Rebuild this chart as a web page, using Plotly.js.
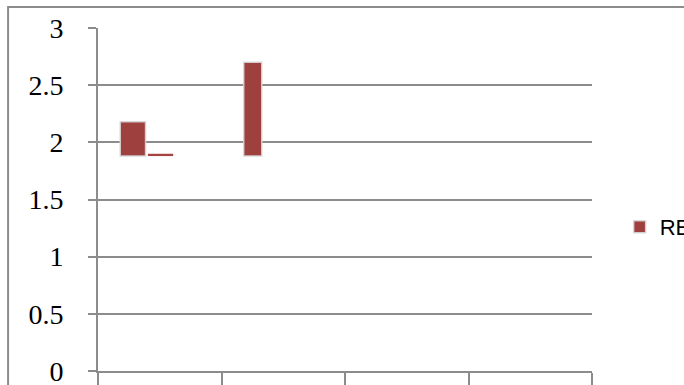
<!DOCTYPE html>
<html>
<head>
<meta charset="utf-8">
<script src="https://cdn.plot.ly/plotly-3.0.1.min.js"></script>
<style>html,body{margin:0;padding:0;background:#fff;}#chart{width:684px;height:385px;}</style>
</head>
<body>
<div id="chart"></div>
<script>
// Data
var categories = ['C1', 'C2', 'C3', 'C4'];
var baseValue = 1.88;                       // visible bottom of all bars
var seriesA = [2.18, 2.70, null, null];      // first bar in each category (legend "RE…")
var seriesB = [1.90, null, null, null];      // second bar in each category
var yTicks = [0, 0.5, 1, 1.5, 2, 2.5, 3];
var yTickLabels = ['0', '0.5', '1', '1.5', '2', '2.5', '3'];
var legendName = 'RES';

function heights(arr) { return arr.map(function (v) { return v == null ? null : v - baseValue; }); }

var barColor = '#9E403E';
var edge = {color: 'rgba(215,215,215,0.9)', width: 1.5};

var traces = [
  {type: 'bar', name: legendName, x: categories, y: heights(seriesA), base: baseValue,
   offset: -0.32, width: [0.205, 0.146, 0.205, 0.205],
   marker: {color: barColor, line: edge}, showlegend: true},
  {type: 'bar', name: 'B', x: categories, y: heights(seriesB), base: baseValue,
   offset: -0.096, width: 0.205,
   marker: {color: '#A8443F', line: {width: 0}}, showlegend: false}
];

var layout = {
  width: 684, height: 385,
  margin: {l: 98, r: 92, t: 28, b: 14, autoexpand: false},
  paper_bgcolor: '#fff', plot_bgcolor: '#fff',
  barmode: 'overlay',
  showlegend: true,
  legend: {x: 1.056, y: 0.42, xanchor: 'left', yanchor: 'middle',
           font: {family: 'Liberation Sans, Arial, sans-serif', size: 22, color: '#000'},
           itemwidth: 30, bgcolor: 'rgba(0,0,0,0)'},
  xaxis: {range: [-0.5, 3.5], tickmode: 'array', tickvals: [-0.5, 0.5, 1.5, 2.5, 3.5],
          ticktext: ['', '', '', '', ''], ticks: 'outside', ticklen: 16, tickcolor: '#8c8c8c', tickwidth: 2,
          showgrid: false, showline: true, linecolor: '#8c8c8c', linewidth: 2, zeroline: false, fixedrange: true},
  yaxis: {range: [0, 3], tickmode: 'array', tickvals: yTicks, ticktext: yTickLabels,
          ticks: 'outside', ticklen: 8, tickcolor: '#8c8c8c', tickwidth: 2,
          showgrid: true, gridcolor: '#8c8c8c', gridwidth: 2,
          showline: true, linecolor: '#8c8c8c', linewidth: 2, zeroline: false,
          ticklabelstandoff: 19, ticklabeloverflow: 'allow',
          tickfont: {family: 'Liberation Serif, Times New Roman, serif', size: 28, color: '#000'}, fixedrange: true},
  shapes: [{type: 'rect', xref: 'paper', yref: 'paper', x0: -0.182, x1: 1.4, y0: 1.061, y1: -0.3,
            line: {color: '#8c8c8c', width: 2}, fillcolor: 'rgba(0,0,0,0)'}]
};

Plotly.newPlot('chart', traces, layout, {displayModeBar: false, staticPlot: true});
</script>
</body>
</html>
